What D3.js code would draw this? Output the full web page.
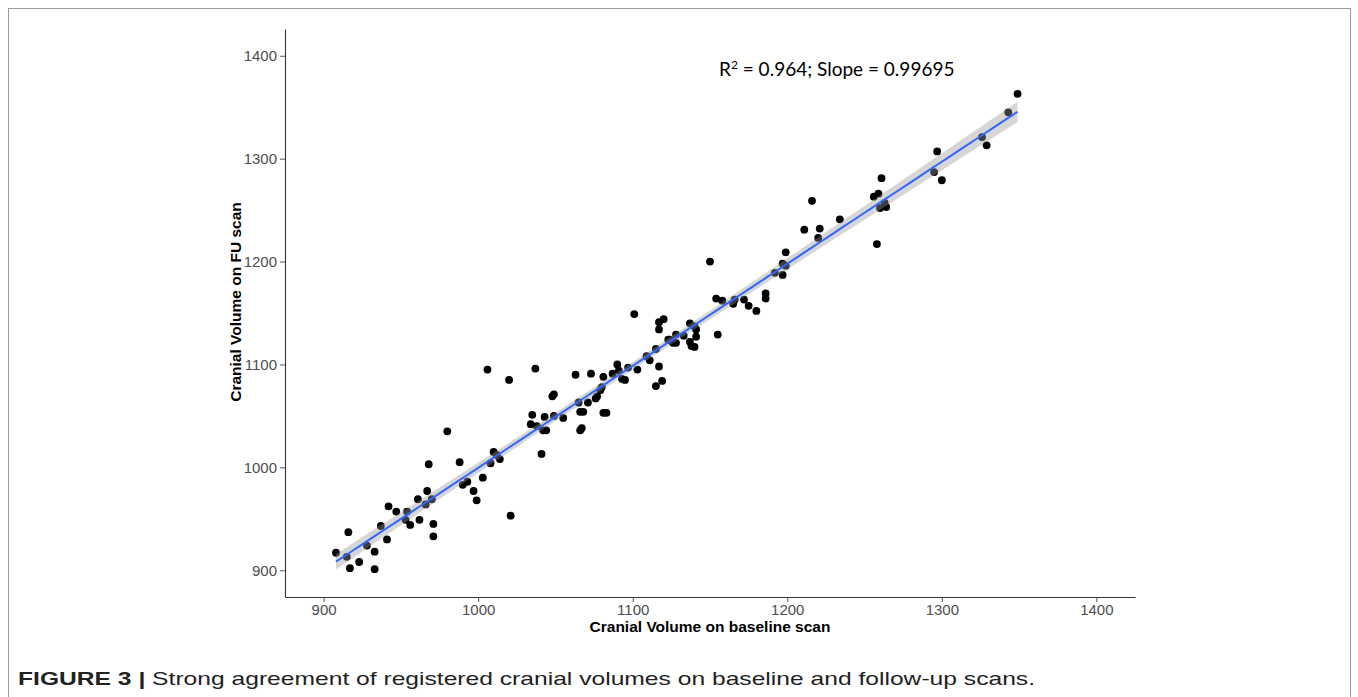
<!DOCTYPE html>
<html>
<head>
<meta charset="utf-8">
<script src="https://cdn.jsdelivr.net/npm/d3@7"></script>
<style>
  body { margin: 0; background: #fff; }
  svg { display: block; }
</style>
</head>
<body>
<script>
// cranial volume, baseline scan (x) and follow-up scan (y)
const baseline = [
  908, 916, 915, 917, 923, 928, 933, 933, 937, 941, 942, 947, 954, 953, 956, 962,
  961, 967, 968, 966, 970, 971, 971, 980, 988, 990, 993, 997, 999, 1003, 1021, 1008,
  1010, 1012, 1014, 1035, 1034, 1038, 1041, 1042, 1044, 1043, 1049, 1006, 1020, 1037,
  1048, 1049, 1055, 1063, 1066, 1068, 1066, 1067, 1065, 1071, 1073, 1076, 1077, 1080,
  1079, 1081, 1081, 1083, 1087, 1090, 1091, 1093, 1095, 1097, 1103, 1101, 1109, 1111,
  1115, 1117, 1115, 1119, 1117, 1117, 1120, 1123, 1124, 1126, 1128, 1128, 1133, 1137,
  1140, 1141, 1141, 1137, 1138, 1140, 1155, 1150, 1154, 1158, 1165, 1166, 1172, 1175,
  1180, 1186, 1186, 1192, 1197, 1197, 1199, 1199,
  1211, 1216, 1220, 1221, 1234, 1258, 1256, 1259, 1261, 1260, 1263, 1264, 1297, 1295,
  1300, 1326, 1329, 1343, 1349
];
const followUp = [
  917, 937, 913, 902, 908, 924, 918, 901, 943, 930, 962, 957, 957, 949, 944, 949,
  969, 977, 1003, 964, 969, 945, 933, 1035, 1005, 983, 986, 977, 968, 990, 953, 1004,
  1015, 1012, 1008, 1051, 1042, 1040, 1013, 1036, 1036, 1049, 1050, 1095, 1085, 1096,
  1069, 1071, 1048, 1090, 1054, 1054, 1036, 1038, 1063, 1063, 1091, 1067, 1069, 1078,
  1075, 1088, 1053, 1053, 1091, 1100, 1094, 1086, 1085, 1097, 1095, 1149, 1108, 1104,
  1115, 1098, 1079, 1084, 1134, 1141, 1144, 1124, 1124, 1121, 1121, 1129, 1128, 1140,
  1137, 1134, 1127, 1122, 1118, 1117, 1129, 1200, 1164, 1162, 1159, 1163, 1163, 1157,
  1152, 1169, 1164, 1189, 1187, 1198, 1196, 1209,
  1231, 1259, 1223, 1232, 1241, 1217, 1263, 1266, 1281, 1252, 1257, 1253, 1307, 1287,
  1279, 1321, 1313, 1345, 1363
];

const xTicks = [900, 1000, 1100, 1200, 1300, 1400];
const yTicks = [900, 1000, 1100, 1200, 1300, 1400];

const W = 1358, H = 697;
const pLeft = 285, pRight = 1135, pTop = 29, pBottom = 597;

const svg = d3.select('body').append('svg')
  .attr('width', W)
  .attr('height', H);

// figure frame
svg.append('rect')
  .attr('x', 8.5).attr('y', 8.5)
  .attr('width', 1342).attr('height', 720)
  .attr('fill', 'none')
  .attr('stroke', '#9a9a9a')
  .attr('stroke-width', 1);

const x = d3.scaleLinear().domain([875, 1425]).range([pLeft, pRight]);
const y = d3.scaleLinear().domain([874, 1426]).range([pBottom, pTop]);

const pts = baseline.map((b, i) => [b, followUp[i]]);

// points
svg.append('g').selectAll('circle')
  .data(pts)
  .enter()
  .append('circle')
  .attr('cx', d => x(d[0]))
  .attr('cy', d => y(d[1]))
  .attr('r', 3.9)
  .attr('fill', '#000');

// linear fit with 95% band, like geom_smooth(method = "lm")
const n = pts.length;
const mx = d3.mean(baseline), my = d3.mean(followUp);
const sxx = d3.sum(baseline, v => (v - mx) ** 2);
const sxy = d3.sum(pts, d => (d[0] - mx) * (d[1] - my));
const slope = sxy / sxx;
const icpt = my - slope * mx;
const sse = d3.sum(pts, d => (d[1] - (icpt + slope * d[0])) ** 2);
const s = Math.sqrt(sse / (n - 2));
const tq = 1.979;

const [xmin, xmax] = d3.extent(baseline);
const grid = d3.range(80).map(i => xmin + (xmax - xmin) * i / 79);
const fit = grid.map(v => {
  const f = icpt + slope * v;
  const se = s * Math.sqrt(1 / n + (v - mx) ** 2 / sxx);
  return { x: v, f: f, lo: f - tq * se, hi: f + tq * se };
});

svg.append('path')
  .datum(fit)
  .attr('d', d3.area().x(d => x(d.x)).y0(d => y(d.lo)).y1(d => y(d.hi)))
  .attr('fill', '#999999')
  .attr('fill-opacity', 0.4);

svg.append('path')
  .datum(fit)
  .attr('d', d3.line().x(d => x(d.x)).y(d => y(d.f)))
  .attr('fill', 'none')
  .attr('stroke', '#3366FF')
  .attr('stroke-width', 2);

// axes
const fmt = d3.format('d');
const xAxis = svg.append('g')
  .attr('transform', `translate(0,${pBottom})`)
  .call(d3.axisBottom(x).tickValues(xTicks).tickFormat(fmt).tickSize(5).tickSizeOuter(0).tickPadding(2));
const yAxis = svg.append('g')
  .attr('transform', `translate(${pLeft},0)`)
  .call(d3.axisLeft(y).tickValues(yTicks).tickFormat(fmt).tickSize(5).tickSizeOuter(0).tickPadding(3));

[xAxis, yAxis].forEach(g => {
  g.select('.domain').attr('stroke', '#333').attr('stroke-width', 1.1);
  g.selectAll('.tick line').attr('stroke', '#555');
  g.selectAll('.tick text')
    .attr('fill', '#4d4d4d')
    .style('font-family', '"Liberation Sans", Arial, sans-serif')
    .style('font-size', '15px');
});

// axis titles
svg.append('text')
  .attr('x', (pLeft + pRight) / 2)
  .attr('y', 632)
  .attr('text-anchor', 'middle')
  .style('font-family', '"Liberation Sans", Arial, sans-serif')
  .style('font-size', '15.5px')
  .style('font-weight', 'bold')
  .text('Cranial Volume on baseline scan');

svg.append('text')
  .attr('transform', 'translate(241,302) rotate(-90)')
  .attr('text-anchor', 'middle')
  .style('font-family', '"Liberation Sans", Arial, sans-serif')
  .style('font-size', '15.5px')
  .style('font-weight', 'bold')
  .text('Cranial Volume on FU scan');

// annotation
const ann = svg.append('text')
  .attr('x', 719)
  .attr('y', 76)
  .style('font-family', 'Lato, "Open Sans", sans-serif')
  .style('font-size', '19px')
  .attr('fill', '#000');
ann.append('tspan').text('R');
ann.append('tspan').attr('dy', -7).style('font-size', '12px').text('2');
ann.append('tspan').attr('dy', 7).text(' = 0.964; Slope = 0.99695');

// caption
const cap = svg.append('text')
  .attr('x', 18)
  .attr('y', 685)
  .attr('textLength', 1017)
  .attr('lengthAdjust', 'spacingAndGlyphs')
  .style('font-family', '"Liberation Sans Narrow", "Liberation Sans", Arial, sans-serif')
  .style('font-size', '19px')
  .attr('fill', '#222');
cap.append('tspan').style('font-weight', 'bold').text('FIGURE 3 | ');
cap.append('tspan').text('Strong agreement of registered cranial volumes on baseline and follow-up scans.');
</script>
</body>
</html>
